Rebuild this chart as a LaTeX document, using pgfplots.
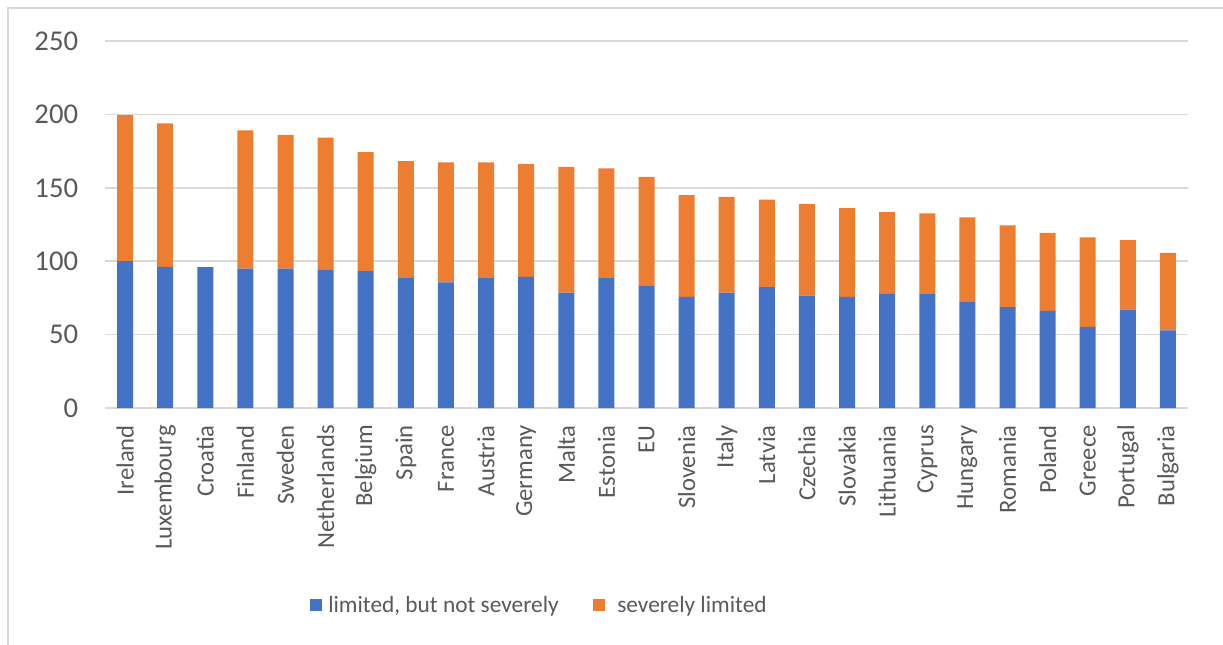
\documentclass[border=0pt]{standalone}
\usepackage{pgfplots}
\usepackage{pgfplotstable}
\pgfplotsset{compat=1.18}
\usepackage{fontspec}
\setmainfont{Carlito}
\definecolor{barblue}{HTML}{4472C4}
\definecolor{barorange}{HTML}{ED7D31}
\definecolor{gridgray}{HTML}{D9D9D9}
\definecolor{textgray}{HTML}{595959}

\pgfplotstableread{
x blue orange
0 100.0 99.5
1 96.1 97.8
2 96.0 0
3 95.0 94.1
4 95.0 91.1
5 94.1 90.0
6 93.2 81.1
7 88.4 79.8
8 85.5 81.8
9 88.4 78.9
10 89.3 76.9
11 78.6 85.7
12 88.4 74.8
13 83.6 73.9
14 75.7 69.3
15 78.6 65.3
16 82.4 59.6
17 76.6 62.5
18 75.7 60.4
19 77.7 55.7
20 77.6 55.0
21 72.7 57.1
22 68.8 55.6
23 66.1 53.2
24 55.2 61.0
25 67.0 47.3
26 52.9 52.8
}\data

\begin{document}
\begin{tikzpicture}
\useasboundingbox (0,0) rectangle (917.25pt,483pt);
\draw[gridgray, line width=1.5pt] (6pt,-20pt) -- (6pt,477pt) -- (940pt,477pt);
\begin{axis}[
  at={(78.75pt,177pt)}, anchor=south west,
  scale only axis, width=812.25pt, height=275.25pt,
  xmin=-0.5, xmax=26.5, ymin=0, ymax=250,
  ybar stacked, bar width=12pt,
  axis line style={draw=none},
  tick style={draw=none},
  ymajorgrids,
  major grid style={gridgray, line width=1.2pt},
  ytick={0,50,100,150,200,250},
  yticklabels={0,50,100,150,200,250},
  xtick={0,...,26},
  xticklabels={Ireland,Luxembourg,Croatia,Finland,Sweden,Netherlands,Belgium,Spain,France,Austria,Germany,Malta,Estonia,EU,Slovenia,Italy,Latvia,Czechia,Slovakia,Lithuania,Cyprus,Hungary,Romania,Poland,Greece,Portugal,Bulgaria},
  /pgf/number format/assume math mode=true,
  yticklabel style={font=\fontsize{21.5}{25}\selectfont, text=textgray, inner sep=0pt},
  yticklabel shift=20pt,
  xticklabel style={font=\fontsize{18.5}{22}\selectfont, text=textgray, rotate=90, anchor=east, inner sep=0pt},
  xticklabel shift=12.75pt,
  legend columns=2,
  legend style={at={(axis description cs:0.185,-0.537)}, anchor=west, draw=none, fill=none,
    font=\fontsize{17.5}{20}\selectfont, text=textgray,
    /tikz/every odd column/.append style={column sep=3pt},
    /tikz/every even column/.append style={column sep=24pt}},
  legend image code/.code={\fill[#1,draw=none] (0pt,-4.5pt) rectangle (9pt,4.5pt);},
]
\addplot[fill=barblue, draw=none] table[x=x, y=blue] {\data};
\addlegendentry{limited, but not severely}
\addplot[fill=barorange, draw=none] table[x=x, y=orange] {\data};
\addlegendentry{\ severely limited}
\end{axis}
\end{tikzpicture}
\end{document}
